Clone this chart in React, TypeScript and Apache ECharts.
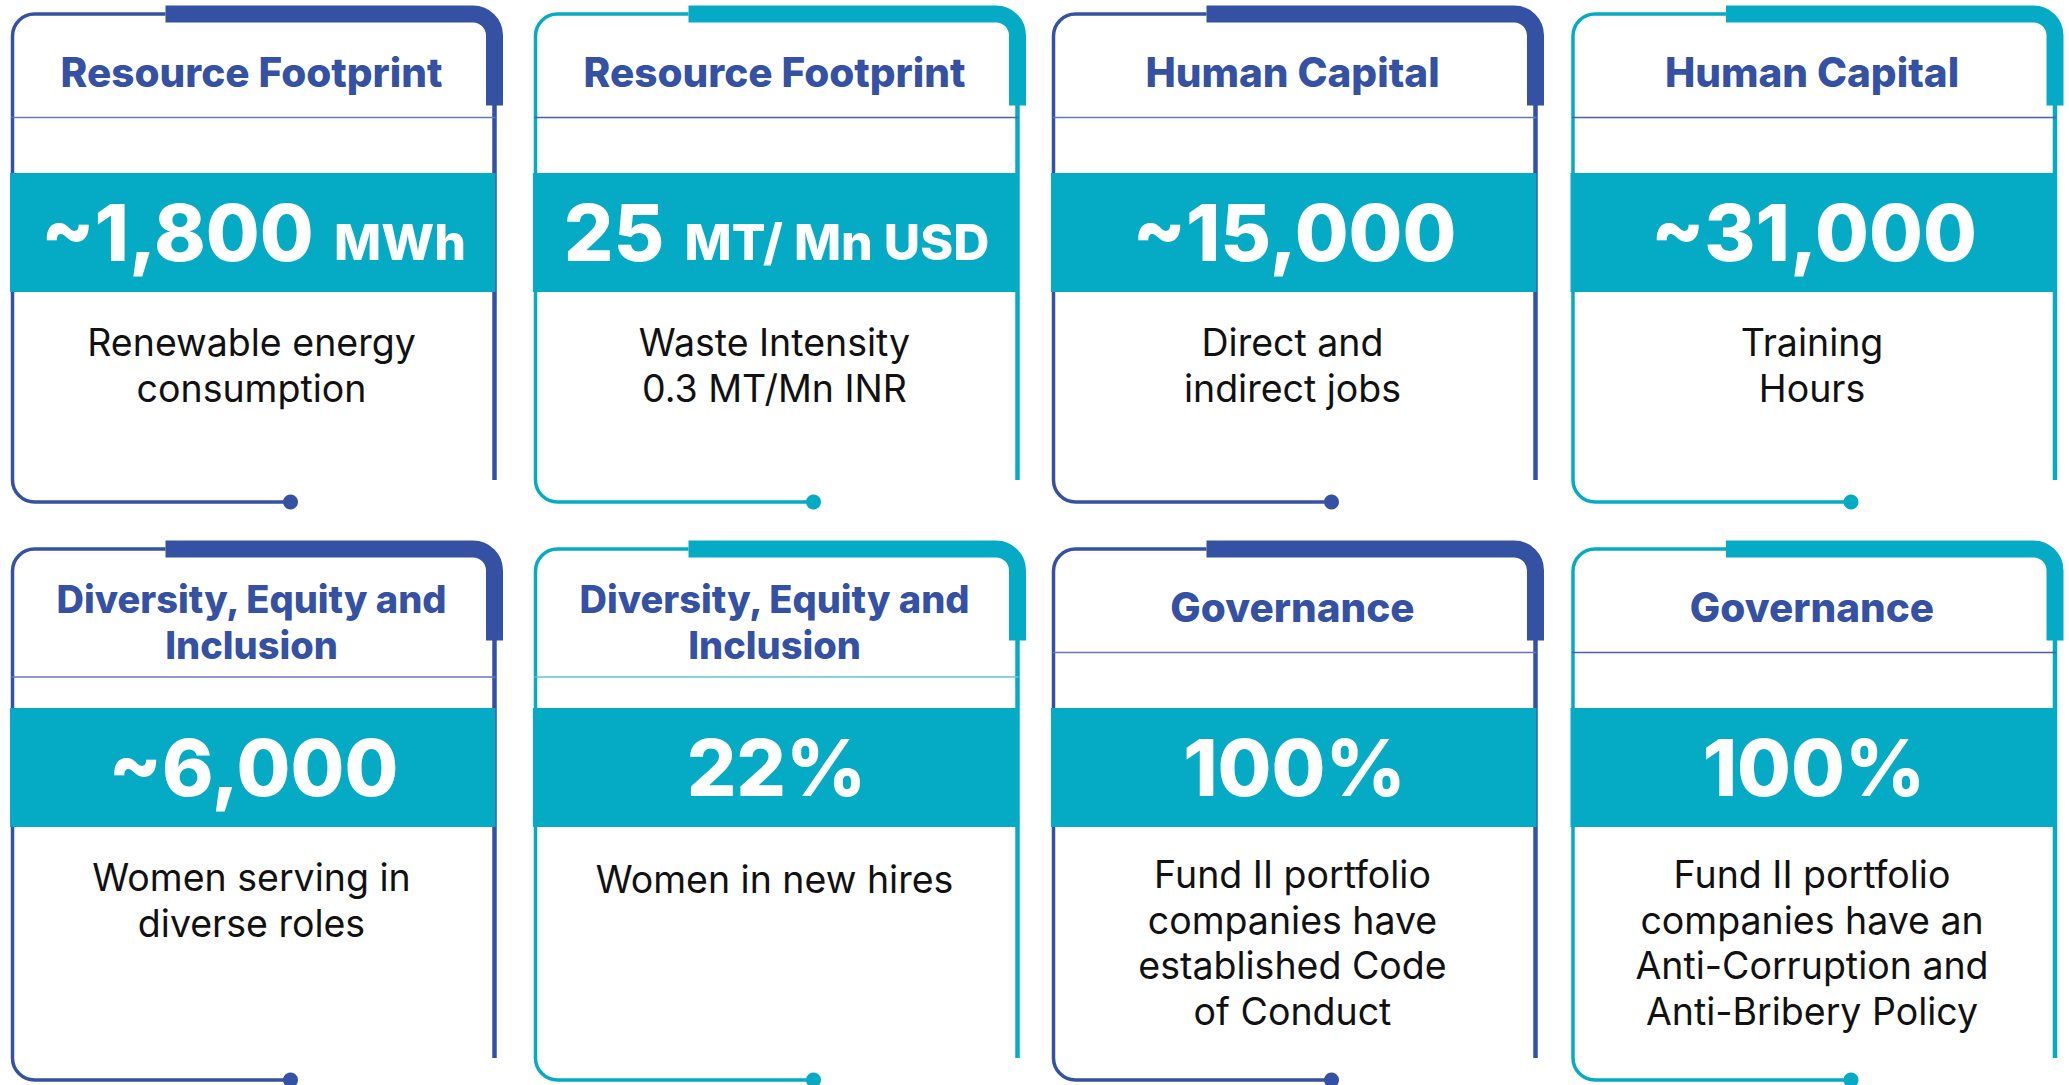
import React, { useEffect, useRef } from "react";
import * as echarts from "echarts";

// ---- Data ----
const titles = [
  "Resource Footprint",
  "Resource Footprint",
  "Human Capital",
  "Human Capital",
  "Diversity, Equity and\nInclusion",
  "Diversity, Equity and\nInclusion",
  "Governance",
  "Governance",
];
const values = ["~1,800", "25", "~15,000", "~31,000", "~6,000", "22%", "100%", "100%"];
const units = ["MWh", "MT/ Mn USD", "", "", "", "", "", ""];
const descriptions = [
  "Renewable energy\nconsumption",
  "Waste Intensity\n0.3 MT/Mn INR",
  "Direct and\nindirect jobs",
  "Training\nHours",
  "Women serving in\ndiverse roles",
  "Women in new hires",
  "Fund II portfolio\ncompanies have\nestablished Code\nof Conduct",
  "Fund II portfolio\ncompanies have an\nAnti-Corruption and\nAnti-Bribery Policy",
];
const accents = ["blue", "teal", "blue", "teal", "blue", "teal", "blue", "teal"];

// ---- Layout / style ----
const BLUE = "#3551a3";
const TEAL = "#05abc4";
const CARD_LEFT = [12.5, 535.5, 1053.5, 1573];
const ROW_TOP = [14, 549];
const W = 482;
const ROW_H = [488, 531];
const RIGHT_END = [466, 509];
const R_THIN = 22;
const R_THICK = 21.5;
const THICK_START = 153;
const THICK_END = 91.5;
const DOT_X = 278;

const FONT = "Inter, 'Noto Sans', sans-serif";
const TITLE_FS_1 = 40.5; // single-line titles
const TITLE_FS_2 = 38; // two-line titles
const TITLE_LH = 46;
const VALUE_FS = 78;
const UNIT_FS = 50;
const DESC_FS = 37.5;
const DESC_LH = 45.5;
const REF_DESC_STEP = 42.5;
const CENTRAL = 0.363;

function outlinePath(H: number) {
  return `M${THICK_START} 0 L${R_THIN} 0 A${R_THIN} ${R_THIN} 0 0 0 0 ${R_THIN} L0 ${H - R_THIN} A${R_THIN} ${R_THIN} 0 0 0 ${R_THIN} ${H} L${DOT_X} ${H}`;
}
const thickPath = `M${THICK_START} 0 L${W - R_THICK} 0 A${R_THICK} ${R_THICK} 0 0 1 ${W} ${R_THICK} L${W} ${THICK_END}`;

echarts.graphic.registerShape("cardOutline0", echarts.graphic.extendPath(outlinePath(ROW_H[0]), {}));
echarts.graphic.registerShape("cardOutline1", echarts.graphic.extendPath(outlinePath(ROW_H[1]), {}));
echarts.graphic.registerShape("cardThick", echarts.graphic.extendPath(thickPath, {}));

let measureCtx: CanvasRenderingContext2D | null = null;
function measure(text: string, font: string, fallbackPerChar: number) {
  try {
    if (!measureCtx) measureCtx = document.createElement("canvas").getContext("2d");
    if (measureCtx) {
      measureCtx.font = font;
      return measureCtx.measureText(text).width;
    }
  } catch (e) {}
  return text.length * fallbackPerChar;
}

function buildGraphics() {
  const els: any[] = [];
  for (let i = 0; i < titles.length; i++) {
    const row = i < 4 ? 0 : 1;
    const col = i % 4;
    const left = CARD_LEFT[col];
    const top = ROW_TOP[row];
    const H = ROW_H[row];
    const color = accents[i] === "blue" ? BLUE : TEAL;
    const cx = left + W / 2;
    const nTitleLines = titles[i].split("\n").length;
    const dividerY = nTitleLines > 1 ? top + 128 : top + 103.5;

    els.push({
      type: "cardOutline" + row,
      x: left,
      y: top,
      style: { fill: null, stroke: color, lineWidth: 3.5 },
      z: 1,
    });
    els.push({
      type: "line",
      shape: { x1: left + W, y1: top + THICK_END - 1, x2: left + W, y2: top + RIGHT_END[row] },
      style: { stroke: color, lineWidth: 4.5 },
      z: 1,
    });
    els.push({
      type: "cardThick",
      x: left,
      y: top,
      style: { fill: null, stroke: color, lineWidth: 17, lineCap: "butt" },
      z: 2,
    });
    const divColor =
      i === 5 ? "#5fc5d6" : accents[i] === "blue" ? "#6577bd" : "#4b5dae";
    els.push({
      type: "line",
      shape: { x1: left - 1, y1: dividerY, x2: left + W + 1, y2: dividerY },
      style: { stroke: divColor, lineWidth: 1.5 },
      z: 2,
    });
    els.push({
      type: "rect",
      shape: { x: left - 2.5, y: top + 159, width: W + 3.5, height: 119 },
      style: { fill: TEAL },
      z: 3,
    });
    els.push({
      type: "circle",
      shape: { cx: left + DOT_X, cy: top + H, r: 7.5 },
      style: { fill: color },
      z: 3,
    });
    // title
    const tfs = nTitleLines > 1 ? TITLE_FS_2 : TITLE_FS_1;
    const titleFirstBase = nTitleLines > 1 ? 86.5 - TITLE_LH / 2 : 73;
    els.push({
      type: "text",
      x: cx - 2,
      y: top + titleFirstBase - CENTRAL * tfs - TITLE_LH / 2,
      style: {
        text: titles[i],
        fill: BLUE,
        font: `800 ${tfs}px ${FONT}`,
        lineHeight: TITLE_LH,
        align: "center",
        verticalAlign: "top",
      },
      z: 5,
    });
    // value + unit
    const valueCenter = top + 218;
    const baseline = valueCenter + CENTRAL * VALUE_FS;
    const vFont = `800 ${VALUE_FS}px ${FONT}`;
    const uFont = `800 ${UNIT_FS}px ${FONT}`;
    if (units[i]) {
      const wv = measure(values[i], vFont, VALUE_FS * 0.65);
      const gap = VALUE_FS * 0.26;
      const wu = measure(units[i], uFont, UNIT_FS * 0.68);
      const total = wv + gap + wu;
      const x0 = cx - total / 2;
      els.push({
        type: "text",
        x: x0,
        y: valueCenter,
        style: { text: values[i], fill: "#ffffff", font: vFont, align: "left", verticalAlign: "middle" },
        z: 5,
      });
      els.push({
        type: "text",
        x: x0 + wv + gap,
        y: baseline - CENTRAL * UNIT_FS,
        style: { text: units[i], fill: "#ffffff", font: uFont, align: "left", verticalAlign: "middle" },
        z: 5,
      });
    } else {
      els.push({
        type: "text",
        x: cx,
        y: valueCenter,
        style: { text: values[i], fill: "#ffffff", font: vFont, align: "center", verticalAlign: "middle" },
        z: 5,
      });
    }
    // description
    const nDesc = descriptions[i].split("\n").length;
    const descFirstBase = 344 + ((nDesc - 1) * (REF_DESC_STEP - DESC_LH)) / 2;
    els.push({
      type: "text",
      x: cx - 2,
      y: top + descFirstBase - CENTRAL * DESC_FS - DESC_LH / 2,
      style: {
        text: descriptions[i],
        fill: "#111111",
        font: `400 ${DESC_FS}px ${FONT}`,
        lineHeight: DESC_LH,
        align: "center",
        verticalAlign: "top",
      },
      z: 5,
    });
  }
  return els;
}

export default function App() {
  const ref = useRef<HTMLDivElement>(null);
  useEffect(() => {
    document.body.style.margin = "0";
    if (!ref.current) return;
    const chart = echarts.init(ref.current, undefined, { renderer: "svg" });
    chart.setOption({
      animation: false,
      backgroundColor: "#ffffff",
      graphic: { elements: buildGraphics() },
    });
    return () => chart.dispose();
  }, []);
  return <div ref={ref} style={{ width: 2069, height: 1085 }} />;
}
